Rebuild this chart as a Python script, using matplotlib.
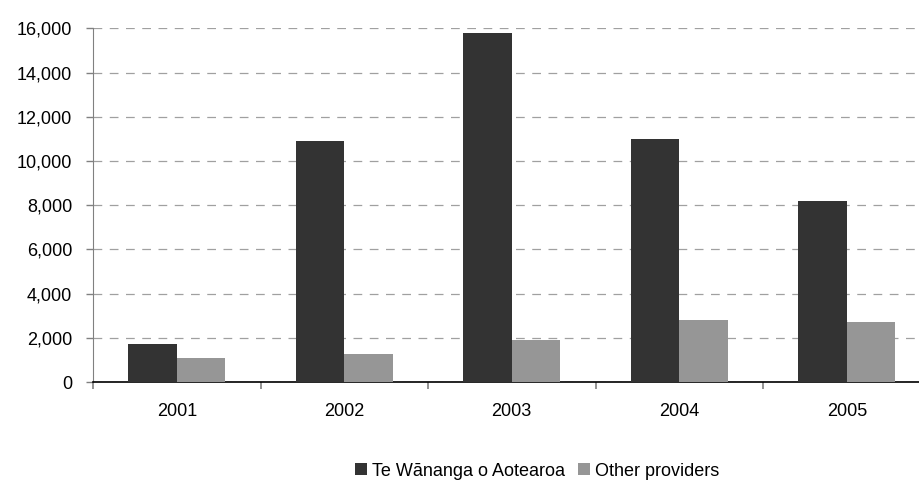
import matplotlib
matplotlib.use("Agg")
import matplotlib.pyplot as plt
import numpy as np
from matplotlib.ticker import FuncFormatter, FixedLocator

years = ["2001", "2002", "2003", "2004", "2005"]
wananga = [1700, 10900, 15800, 11000, 8200]
other = [1100, 1250, 1900, 2800, 2700]
series_names = ["Te Wānanga o Aotearoa", "Other providers"]

plt.rcParams['font.family'] = ['Liberation Sans', 'DejaVu Sans']
FS = 13

fig = plt.figure(figsize=(9.2, 4.86), dpi=100)
W, H = 920, 486
left, right = 93, 930.5
bottom, top = 382, 28.3
ax = fig.add_axes([left / W, (H - bottom) / H, (right - left) / W, (bottom - top) / H])

x = np.arange(len(years))
bw = 0.29
ax.bar(x - bw / 2, wananga, bw, color="#333333", label=series_names[0], zorder=3)
ax.bar(x + bw / 2, other, bw, color="#969696", label=series_names[1], zorder=3)

ax.set_xlim(-0.5, len(years) - 0.5)
ax.set_ylim(0, 16000)
ax.set_yticks(np.arange(0, 16001, 2000))
ax.yaxis.set_major_formatter(FuncFormatter(lambda v, p: f"{int(v):,}"))
ax.yaxis.grid(True, linestyle=(0, (7, 6)), color="#a0a0a0", linewidth=0.9, zorder=0)

ax.set_xticks(x)
ax.set_xticklabels(years)
ax.tick_params(axis='x', which='major', length=0, pad=15, labelsize=FS)
ax.xaxis.set_minor_locator(FixedLocator(np.arange(-0.5, len(years), 1.0)))
ax.tick_params(axis='x', which='minor', length=5, color="#808080", width=1.2)
ax.tick_params(axis='y', length=5, color="#808080", width=1, labelsize=FS, pad=10)

for s in ("top", "right"):
    ax.spines[s].set_visible(False)
ax.spines["left"].set_color("#808080")
ax.spines["bottom"].set_color("#000000")
ax.spines["bottom"].set_linewidth(1.2)

fig.legend(loc="center left", bbox_to_anchor=(355 / W, (H - 471) / H), ncol=2, frameon=False,
           fontsize=FS, handlelength=0.65, handleheight=0.65, handletextpad=0.3,
           columnspacing=0.7, borderpad=0, borderaxespad=0)

fig.savefig("out.png", dpi=100)
